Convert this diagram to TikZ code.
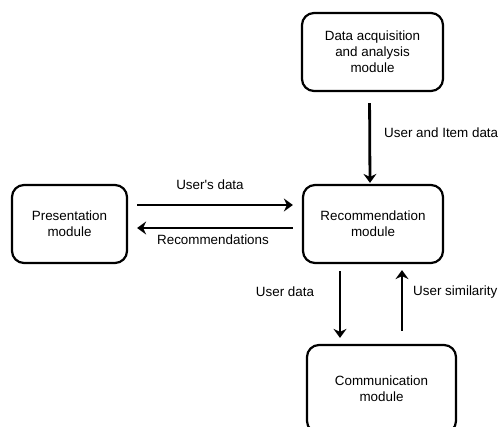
\documentclass[tikz,border=0pt]{standalone}
\usepackage{fontspec}
\setmainfont{Liberation Sans}
\usetikzlibrary{arrows.meta}
\tikzset{
  module/.style={draw, line width=2.2pt, rounded corners=12pt, align=center,
    font=\fontsize{13.4pt}{16pt}\selectfont, inner sep=0pt},
  flow/.style={line width=2.8pt, -{Stealth[length=9pt,width=13pt,inset=3pt]}},
  lbl/.style={font=\fontsize{13.4pt}{16pt}\selectfont, inner sep=0pt}
}
\begin{document}
\begin{tikzpicture}[x=1pt,y=-1pt]
\useasboundingbox (0,0) rectangle (499,427);
\clip (0,0) rectangle (499,427);
% modules
\node[module, minimum width=141pt, minimum height=78pt] (data) at (372.5,52)
  {Data acquisition\\and analysis\\module};
\node[module, minimum width=140pt, minimum height=78pt] (rec) at (373,224)
  {Recommendation\\module};
\node[module, minimum width=115pt, minimum height=78pt] (pres) at (69.5,224)
  {Presentation\\module};
\node[module, minimum width=149pt, minimum height=88pt] (comm) at (381.5,389)
  {Communication\\module};
% flows between modules
\draw[flow, shorten <=11pt, shorten >=1pt]
  ([xshift=-3pt]data.south) -- ([xshift=-3pt]rec.north);
\draw[flow, shorten <=9pt, shorten >=9pt]
  ([yshift=19pt]pres.east) -- ([yshift=19pt]pres.east -| rec.west);
\draw[flow, shorten <=9pt, shorten >=9pt]
  ([yshift=-4pt]rec.west) -- ([yshift=-4pt]rec.west -| pres.east);
\draw[flow, shorten <=7pt, shorten >=6pt]
  ([xshift=-33pt]rec.south) -- ([xshift=-33pt]rec.south |- comm.north);
\draw[flow, shorten <=13pt, shorten >=6pt]
  ([xshift=29pt]rec.south |- comm.north) -- ([xshift=29pt]rec.south);
% flow labels
\node[lbl, anchor=west] (lui) at (384,133) {User and Item data};
\node[lbl] (lud) at (210,185) {User\textquotesingle s data};
\node[lbl] (lrc) at (213,240) {Recommendations};
\node[lbl] (lu) at (285,292) {User data};
\node[lbl, anchor=west] (lus) at (413,292) {User similarity};
\end{tikzpicture}
\end{document}
